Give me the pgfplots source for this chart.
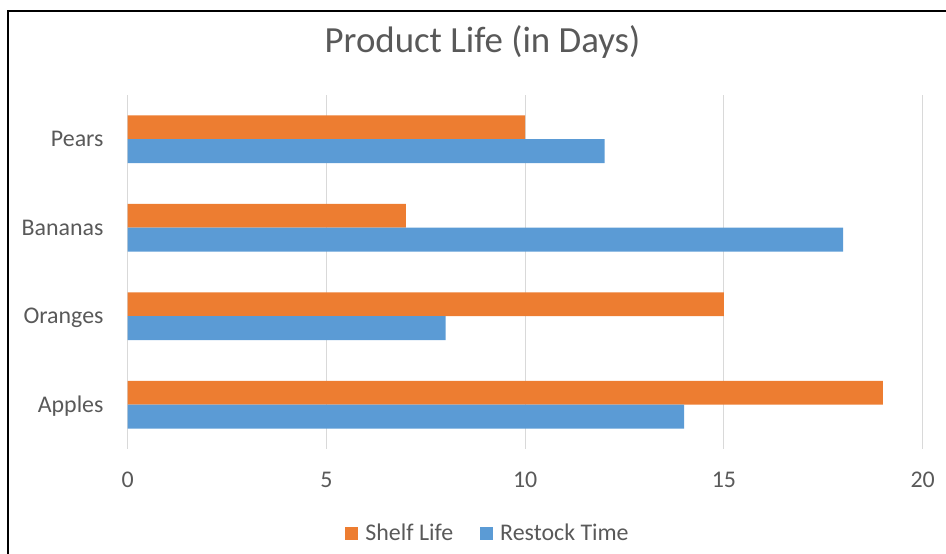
\documentclass[border=0pt]{standalone}
\usepackage{fontspec}
\setmainfont{Carlito}
\usepackage{pgfplots}
\pgfplotsset{compat=1.18}
\definecolor{shelf}{HTML}{ED7D31}
\definecolor{restock}{HTML}{5B9BD5}
\definecolor{gridgray}{HTML}{D9D9D9}
\definecolor{labelgray}{HTML}{595959}
\begin{document}
\begin{tikzpicture}[x=1bp,y=1bp]
\useasboundingbox (0,0) rectangle (946,554);
\draw[line width=2bp, black] (8,-2) -- (8,543) -- (948,543);
\node[anchor=base, text=labelgray, font=\fontsize{37}{44}\selectfont, inner sep=0pt]
  at (482.5,501) {Product Life (in Days)};
\begin{axis}[
    at={(127.7bp,105bp)}, anchor=south west,
    scale only axis, width=795bp, height=354bp,
    xmin=0, xmax=20, ymin=0.5, ymax=4.5,
    xtick={0,5,10,15,20}, ytick={1,2,3,4},
    yticklabels={Apples,Oranges,Bananas,Pears},
    xmajorgrids, grid style={gridgray, line width=1bp},
    axis line style={draw=none},
    major tick length=0pt,
    tick label style={font=\fontsize{24}{29}\selectfont, text=labelgray,
        inner sep=0pt, text height=15.5bp, text depth=0pt},
    xticklabel style={anchor=north, yshift=-23bp},
    yticklabel style={anchor=east, xshift=-24bp},
    /pgf/number format/assume math mode=true,
    xbar, bar width=0.27,
    legend image code/.code={\fill[#1] (0bp,-6.5bp) rectangle (13bp,6.5bp);},
    legend style={at={(0.452,-0.2373)}, anchor=center, draw=none, fill=none,
        legend columns=2, font=\fontsize{24}{29}\selectfont, text=labelgray,
        nodes={inner sep=0pt, text height=15.5bp, text depth=0pt},
        /tikz/every odd column/.append style={column sep=7bp},
        /tikz/every even column/.append style={column sep=27bp}},
]
\addplot[fill=shelf, draw=none, bar shift=0.135]
    coordinates {(19,1) (15,2) (7,3) (10,4)};
\addlegendentry{Shelf Life}
\addplot[fill=restock, draw=none, bar shift=-0.135]
    coordinates {(14,1) (8,2) (18,3) (12,4)};
\addlegendentry{Restock Time}
\end{axis}
\end{tikzpicture}
\end{document}
